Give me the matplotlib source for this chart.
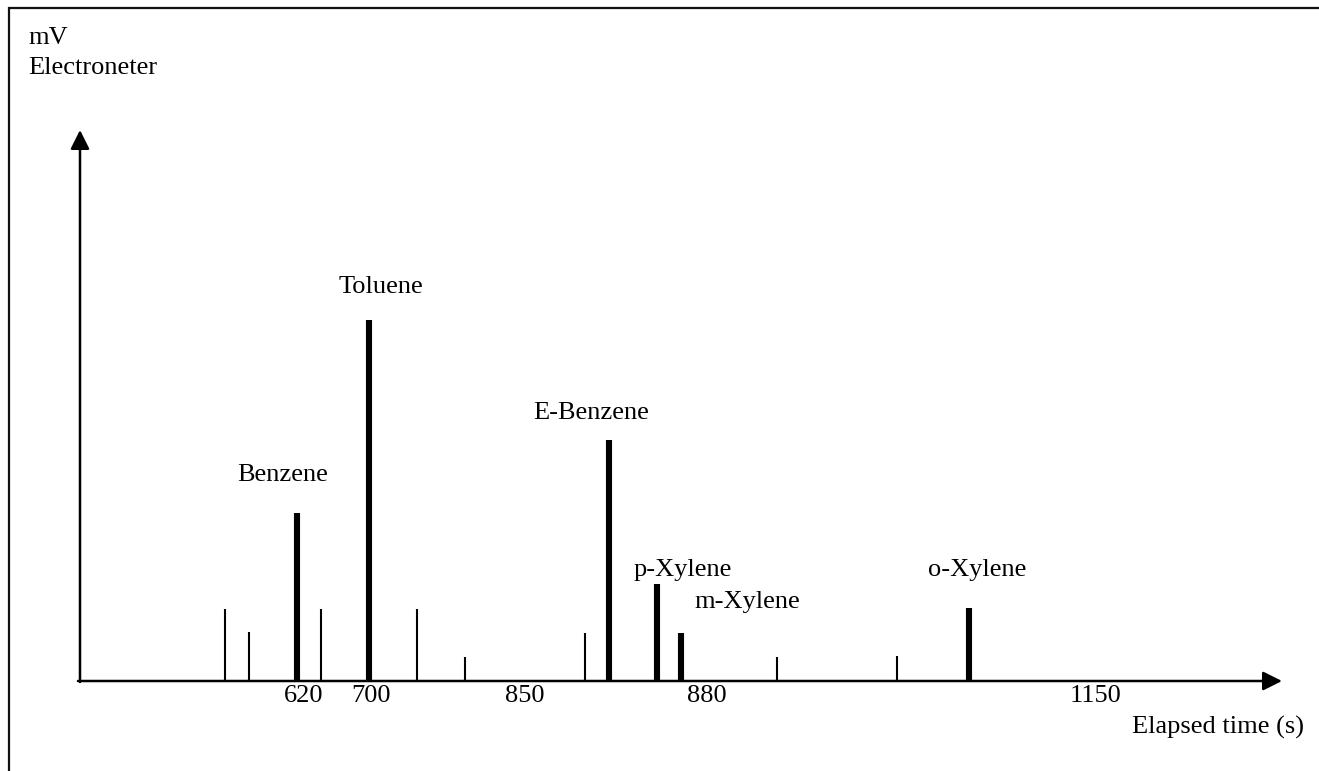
import matplotlib.pyplot as plt
from matplotlib.patches import Rectangle

# schematic chromatogram, positions and heights in drawing units
peak_pos    = [225, 249, 297, 321, 369, 417, 465, 585, 609, 657, 681, 777, 897, 969]
peak_height = [72, 49, 168, 72, 361, 72, 24, 48, 241, 97, 48, 24, 25, 73]
peak_major  = [0, 0, 1, 0, 1, 0, 0, 0, 1, 1, 1, 0, 0, 1]

names      = ["Benzene", "Toluene", "E-Benzene", "p-Xylene", "m-Xylene", "o-Xylene"]
name_x     = [283, 381, 591, 683, 747, 977]
name_y     = [296, 484, 358, 201, 169, 201]

tick_text = ["620", "700", "850", "880", "1150"]
tick_x    = [304, 371, 525, 707, 1096]

base = 90   # baseline of the x axis

plt.rcParams['font.family'] = ['Liberation Serif', 'DejaVu Serif']
fig = plt.figure(figsize=(13.19, 7.71), dpi=100)
ax = fig.add_axes([0, 0, 1, 1])
ax.set_xlim(0, 1319)
ax.set_ylim(0, 771)
ax.axis('off')

# frame around the picture
ax.add_patch(Rectangle((9, -30), 1400, 771 - 8 + 30, fill=False, lw=1.6, ec='#111111'))

# axes with arrows
ax.annotate('', xy=(1282, base), xytext=(78, base),
            arrowprops=dict(arrowstyle='-|>,head_length=1.0,head_width=0.5',
                            mutation_scale=11.5, lw=1.8, color='black',
                            shrinkA=0, shrinkB=0))
ax.annotate('', xy=(80, 771 - 130), xytext=(80, base - 1),
            arrowprops=dict(arrowstyle='-|>,head_length=1.0,head_width=0.5',
                            mutation_scale=11.5, lw=1.8, color='black',
                            shrinkA=0, shrinkB=0))

# peaks
for x, h, m in zip(peak_pos, peak_height, peak_major):
    ax.vlines(x, base, base + h, colors='black', lw=4.4 if m else 1.5)

for t, x, y in zip(names, name_x, name_y):
    ax.text(x, y, t, ha='center', va='center', fontsize=19)

for t, x in zip(tick_text, tick_x):
    ax.text(x, base - 15, t, ha='center', va='center', fontsize=19)

ax.text(28, 771 - 38, "mV", ha='left', va='center', fontsize=19)
ax.text(28, 771 - 68, "Electroneter", ha='left', va='center', fontsize=19)
ax.text(1132, 771 - 727, "Elapsed time (s)", ha='left', va='center', fontsize=19)

plt.savefig("out.png", dpi=100)
